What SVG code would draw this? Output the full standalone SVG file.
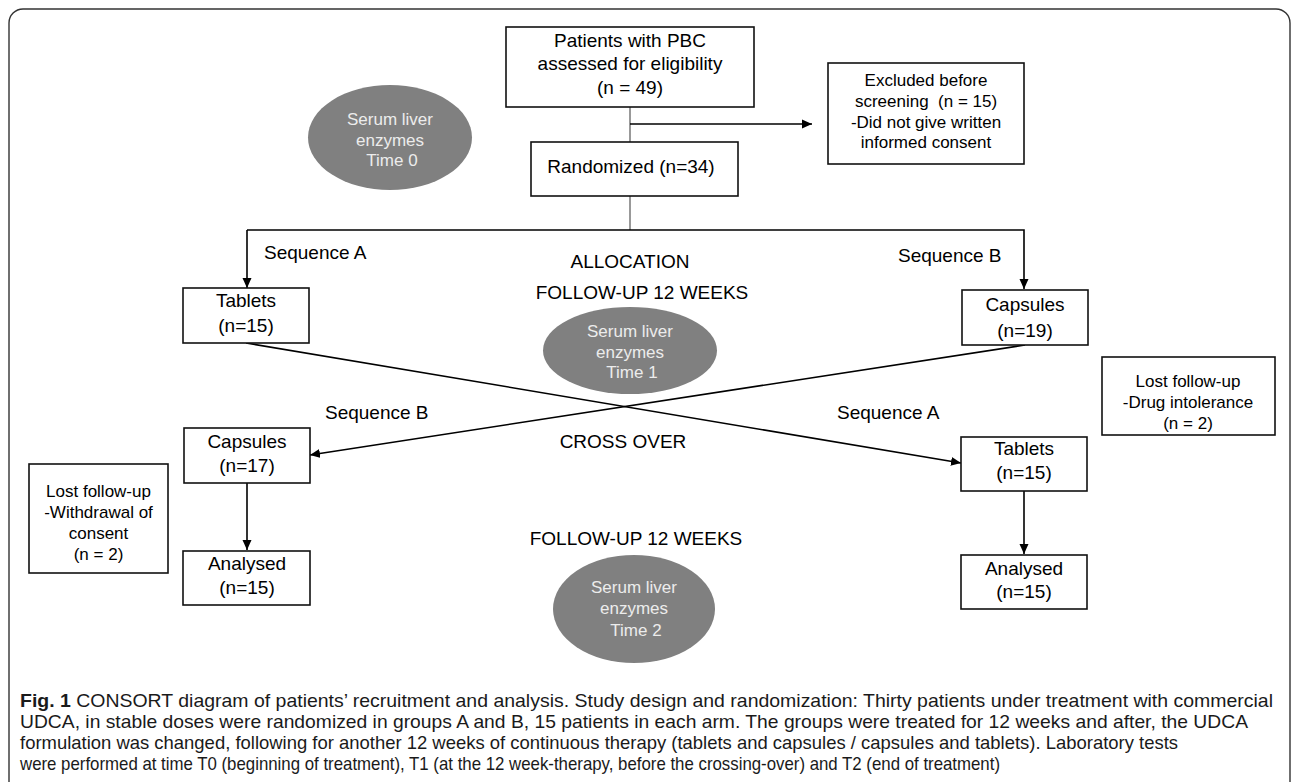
<svg xmlns="http://www.w3.org/2000/svg" width="1292" height="782" viewBox="0 0 1292 782">
<defs>
<marker id="ah" viewBox="0 0 10 10" refX="10" refY="5" markerWidth="10" markerHeight="10" markerUnits="userSpaceOnUse" orient="auto">
<path d="M0,0.5 L10,5 L0,9.5 Z" fill="#000"/>
</marker>
<style>
.box{fill:#fff;stroke:#111;stroke-width:1.6}
.ell{fill:#808080;stroke:none}
.t{font-family:"Liberation Sans",Arial,sans-serif;font-size:19px;fill:#000;text-anchor:middle}
.s{font-family:"Liberation Sans",Arial,sans-serif;font-size:17px;fill:#000;text-anchor:middle}
.e{font-family:"Liberation Sans",Arial,sans-serif;font-size:17px;fill:#ececec;text-anchor:middle}
.l{font-family:"Liberation Sans",Arial,sans-serif;font-size:19px;fill:#000}
.c{font-family:"Liberation Sans Narrow","Liberation Sans",Arial,sans-serif;font-size:18.5px;fill:#1a1a1a}
.ln{fill:none;stroke:#000;stroke-width:1.6}
.gl{fill:none;stroke:#555;stroke-width:1.2}
</style>
</defs>
<rect x="9" y="9" width="1281" height="820" rx="14" fill="none" stroke="#333" stroke-width="1.4"/>

<g id="connectors">
<line class="gl" x1="630" y1="107" x2="630" y2="142"/>
<line class="ln" x1="630" y1="124" x2="812" y2="124" marker-end="url(#ah)"/>
<line class="gl" x1="630" y1="196" x2="630" y2="230"/>
<polyline class="ln" points="247,230 1024,230 1024,289" marker-end="url(#ah)"/>
<line class="ln" x1="247" y1="230" x2="247" y2="288" marker-end="url(#ah)"/>
<line class="ln" x1="246" y1="343" x2="961" y2="463" marker-end="url(#ah)"/>
<line class="ln" x1="1025" y1="345" x2="310" y2="455" marker-end="url(#ah)"/>
<line class="ln" x1="247" y1="483" x2="247" y2="550" marker-end="url(#ah)"/>
<line class="ln" x1="1024" y1="491" x2="1024" y2="554" marker-end="url(#ah)"/>
</g>

<g id="patients">
<rect class="box" x="506" y="27" width="248" height="80"/>
<text class="t" x="630" y="47">Patients with PBC</text>
<text class="t" x="630" y="70">assessed for eligibility</text>
<text class="t" x="630" y="94">(n = 49)</text>
</g>
<g id="excluded">
<rect class="box" x="828" y="63" width="196" height="101"/>
<text class="s" x="926" y="86">Excluded before</text>
<text class="s" x="926" y="107" xml:space="preserve">screening  (n = 15)</text>
<text class="s" x="926" y="128">-Did not give written</text>
<text class="s" x="926" y="148">informed consent</text>
</g>
<g id="randomized">
<rect class="box" x="531" y="142" width="207" height="54"/>
<text class="t" x="631" y="173">Randomized (n=34)</text>
</g>
<g id="time0">
<ellipse class="ell" cx="390" cy="137.5" rx="82" ry="52.5"/>
<text class="e" x="390" y="125">Serum liver</text>
<text class="e" x="390" y="146">enzymes</text>
<text class="e" x="392" y="166">Time 0</text>
</g>
<g id="labels">
<text class="l" x="264" y="259">Sequence A</text>
<text class="l" x="898" y="262">Sequence B</text>
<text class="t" x="630" y="268">ALLOCATION</text>
<text class="t" x="642" y="299">FOLLOW-UP 12 WEEKS</text>
<text class="l" x="325" y="419">Sequence B</text>
<text class="l" x="837" y="419">Sequence A</text>
<text class="t" x="623" y="448">CROSS OVER</text>
<text class="t" x="636" y="545">FOLLOW-UP 12 WEEKS</text>
</g>
<g id="tablets1">
<rect class="box" x="183" y="288" width="126" height="55"/>
<text class="t" x="246" y="307">Tablets</text>
<text class="t" x="246" y="332">(n=15)</text>
</g>
<g id="capsules1">
<rect class="box" x="962" y="290" width="126" height="55"/>
<text class="t" x="1025" y="311">Capsules</text>
<text class="t" x="1025" y="337">(n=19)</text>
</g>
<g id="time1">
<ellipse class="ell" cx="630" cy="350.5" rx="87" ry="43.5"/>
<text class="e" x="630" y="337">Serum liver</text>
<text class="e" x="630" y="358">enzymes</text>
<text class="e" x="632" y="378">Time 1</text>
</g>
<g id="lost-right">
<rect class="box" x="1102" y="357" width="173" height="78"/>
<text class="s" x="1188" y="387">Lost follow-up</text>
<text class="s" x="1188" y="408">-Drug intolerance</text>
<text class="s" x="1188" y="429">(n = 2)</text>
</g>
<g id="capsules2">
<rect class="box" x="184" y="428" width="126" height="55"/>
<text class="t" x="247" y="448">Capsules</text>
<text class="t" x="247" y="472">(n=17)</text>
</g>
<g id="tablets2">
<rect class="box" x="961" y="437" width="126" height="54"/>
<text class="t" x="1024" y="455">Tablets</text>
<text class="t" x="1024" y="479">(n=15)</text>
</g>
<g id="lost-left">
<rect class="box" x="29" y="464" width="139" height="109"/>
<text class="s" x="98.5" y="497">Lost follow-up</text>
<text class="s" x="98.5" y="518">-Withdrawal of</text>
<text class="s" x="98.5" y="539">consent</text>
<text class="s" x="98.5" y="560">(n = 2)</text>
</g>
<g id="analysed-left">
<rect class="box" x="183" y="551" width="127" height="54"/>
<text class="t" x="247" y="570">Analysed</text>
<text class="t" x="247" y="594">(n=15)</text>
</g>
<g id="analysed-right">
<rect class="box" x="961" y="555" width="126" height="54"/>
<text class="t" x="1024" y="575">Analysed</text>
<text class="t" x="1024" y="598">(n=15)</text>
</g>
<g id="time2">
<ellipse class="ell" cx="634" cy="609" rx="81" ry="54"/>
<text class="e" x="634" y="593">Serum liver</text>
<text class="e" x="634" y="614">enzymes</text>
<text class="e" x="636" y="636">Time 2</text>
</g>
<g id="caption">
<text class="c" x="20" y="707" textLength="1253" lengthAdjust="spacingAndGlyphs"><tspan font-weight="bold">Fig. 1</tspan> CONSORT diagram of patients’ recruitment and analysis. Study design and randomization: Thirty patients under treatment with commercial</text>
<text class="c" x="20" y="728" textLength="1228" lengthAdjust="spacingAndGlyphs">UDCA, in stable doses were randomized in groups A and B, 15 patients in each arm. The groups were treated for 12 weeks and after, the UDCA</text>
<text class="c" x="20" y="749" textLength="1158" lengthAdjust="spacingAndGlyphs">formulation was changed, following for another 12 weeks of continuous therapy (tablets and capsules / capsules and tablets). Laboratory tests</text>
<text class="c" x="20" y="770" textLength="980" lengthAdjust="spacingAndGlyphs">were performed at time T0 (beginning of treatment), T1 (at the 12 week-therapy, before the crossing-over) and T2 (end of treatment)</text>
</g>
</svg>
